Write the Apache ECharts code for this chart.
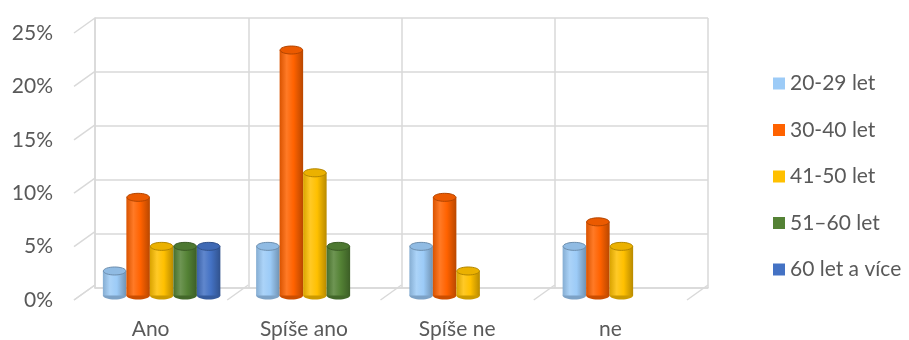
<!DOCTYPE html>
<html>
<head>
<meta charset="utf-8">
<script src="https://cdn.jsdelivr.net/npm/echarts@6/dist/echarts.min.js"></script>
<style>
  html, body { margin: 0; padding: 0; background: #fff; }
  #chart { width: 909px; height: 340px; }
</style>
</head>
<body>
<div id="chart"></div>
<script>
'use strict';

var categories = ['Ano', 'Spíše ano', 'Spíše ne', 'ne'];
var groupNames = ['20-29 let', '30-40 let', '41-50 let', '51–60 let', '60 let a více'];
var groupColors = ['#9CCBF7', '#FF6200', '#FFC000', '#548235', '#4472C4'];
var v2029 = [2.27, 4.55, 4.55, 4.55];
var v3040 = [9.09, 22.73, 9.09, 6.82];
var v4150 = [4.55, 11.36, 2.27, 4.55];
var v5160 = [4.55, 4.55, null, null];
var v60 = [4.55, null, null, null];
var yTicks = [0, 5, 10, 15, 20, 25];

var groupValues = [v2029, v3040, v4150, v5160, v60];

// front (labels), back wall, bars in the middle
var gridFront = { left: 74, right: 222, top: 33, bottom: 37 };
var gridBack = { left: 95, right: 201, top: 18, bottom: 52 };
var gridBars = { left: 85, right: 211, top: 25.5, bottom: 44.5 };
var depthX = gridBack.left - gridFront.left;
var depthY = gridFront.bottom - gridBack.bottom;

var GRAY = '#d9d9d9';
var TEXT = '#595959';
var FONT = 'Lato';
var FSIZE = 21;
var BAR_W = 23.5;

function shade(hex, f) {
  var n = parseInt(hex.slice(1), 16);
  var r = (n >> 16) & 255, g = (n >> 8) & 255, b = n & 255;
  function c(x) {
    var v = f < 1 ? x * f : x + (255 - x) * (f - 1);
    return Math.max(0, Math.min(255, Math.round(v)));
  }
  return 'rgb(' + c(r) + ',' + c(g) + ',' + c(b) + ')';
}

function cylGradient(col) {
  return new echarts.graphic.LinearGradient(0, 0, 1, 0, [
    { offset: 0, color: shade(col, 0.85) },
    { offset: 0.3, color: shade(col, 1.15) },
    { offset: 0.6, color: col },
    { offset: 1, color: shade(col, 0.72) },
  ]);
}

function cylinderRenderer(idx) {
  var col = groupColors[idx];
  var nGroups = groupNames.length;
  return function (params, api) {
    var cat = api.value(0);
    var top = api.coord([cat, api.value(1)]);
    var base = api.coord([cat, 0]);
    var x = base[0] - nGroups * BAR_W / 2 + idx * BAR_W;
    var rx = BAR_W / 2, ry = 4;
    return {
      type: 'group',
      children: [{
        type: 'ellipse',
        shape: { cx: x + rx, cy: base[1], rx: rx, ry: ry },
        style: { fill: shade(col, 0.8) },
      }, {
        type: 'rect',
        shape: { x: x, y: top[1], width: BAR_W, height: base[1] - top[1] },
        style: { fill: cylGradient(col) },
      }, {
        type: 'ellipse',
        shape: { cx: x + rx, cy: top[1], rx: rx - 0.5, ry: ry },
        style: { fill: shade(col, 0.92), stroke: shade(col, 0.7), lineWidth: 1 },
      }],
    };
  };
}

var series = [];

// side wall lines at each level
series.push({
  type: 'custom',
  xAxisIndex: 1,
  yAxisIndex: 1,
  silent: true,
  z: 1,
  data: yTicks.map(function (v) { return [0, v]; }),
  renderItem: function (params, api) {
    var p = api.coord([0, api.value(1)]);
    var w = api.size([1, 0])[0];
    var x0 = p[0] - w / 2;
    return {
      type: 'line',
      shape: { x1: x0, y1: p[1], x2: x0 + depthX, y2: p[1] + depthY },
      style: { stroke: GRAY, lineWidth: 1.5 },
    };
  },
});

// floor lines at category boundaries
series.push({
  type: 'custom',
  xAxisIndex: 1,
  yAxisIndex: 1,
  silent: true,
  z: 1,
  data: [[0, 0], [1, 0], [2, 0], [3, 0], [4, 0]],
  renderItem: function (params, api) {
    var p = api.coord([0, 0]);
    var w = api.size([1, 0])[0];
    var x0 = p[0] - w / 2 + api.value(0) * w;
    return {
      type: 'line',
      shape: { x1: x0, y1: p[1], x2: x0 + depthX, y2: p[1] + depthY },
      style: { stroke: GRAY, lineWidth: 1.5 },
    };
  },
});

groupNames.forEach(function (name, i) {
  var data = [];
  groupValues[i].forEach(function (v, j) {
    if (v !== null) data.push([j, v]);
  });
  series.push({
    name: name,
    type: 'custom',
    xAxisIndex: 2,
    yAxisIndex: 2,
    z: 3,
    encode: { x: 0, y: 1 },
    itemStyle: { color: groupColors[i] },
    data: data,
    renderItem: cylinderRenderer(i),
  });
});

var myChart = echarts.init(document.getElementById('chart'));
myChart.setOption({
  animation: false,
  backgroundColor: '#fff',
  grid: [gridBack, gridFront, gridBars],
  legend: {
    orient: 'vertical',
    left: 768,
    top: 68,
    itemWidth: 12,
    itemHeight: 12,
    itemGap: 25.5,
    icon: 'rect',
    textStyle: { fontFamily: FONT, fontSize: FSIZE, lineHeight: 19.5, color: TEXT },
    data: groupNames.map(function (n, i) {
      return { name: n, itemStyle: { color: groupColors[i] } };
    }),
  },
  xAxis: [{
    gridIndex: 0,
    type: 'category',
    data: categories,
    axisLine: { lineStyle: { color: GRAY, width: 1.5 } },
    axisTick: { show: false },
    axisLabel: { show: false },
    splitLine: { show: true, lineStyle: { color: GRAY, width: 1.5 } },
  }, {
    gridIndex: 1,
    type: 'category',
    data: categories,
    axisLine: { show: false },
    axisTick: { show: false },
    axisLabel: { margin: 19, fontFamily: FONT, fontSize: FSIZE, color: TEXT },
  }, {
    gridIndex: 2,
    type: 'category',
    data: categories,
    show: false,
  }],
  yAxis: [{
    gridIndex: 0,
    type: 'value',
    min: 0,
    max: 25,
    interval: 5,
    axisLine: { show: true, lineStyle: { color: GRAY, width: 1.5 } },
    axisLabel: { show: false },
    splitLine: { lineStyle: { color: GRAY, width: 1.5 } },
  }, {
    gridIndex: 1,
    type: 'value',
    min: 0,
    max: 25,
    interval: 5,
    axisLine: { show: false },
    splitLine: { show: false },
    axisLabel: { margin: 21, formatter: '{value}%', fontFamily: FONT, fontSize: FSIZE, color: TEXT },
  }, {
    gridIndex: 2,
    type: 'value',
    min: 0,
    max: 25,
    show: false,
  }],
  series: series,
});
</script>
</body>
</html>
